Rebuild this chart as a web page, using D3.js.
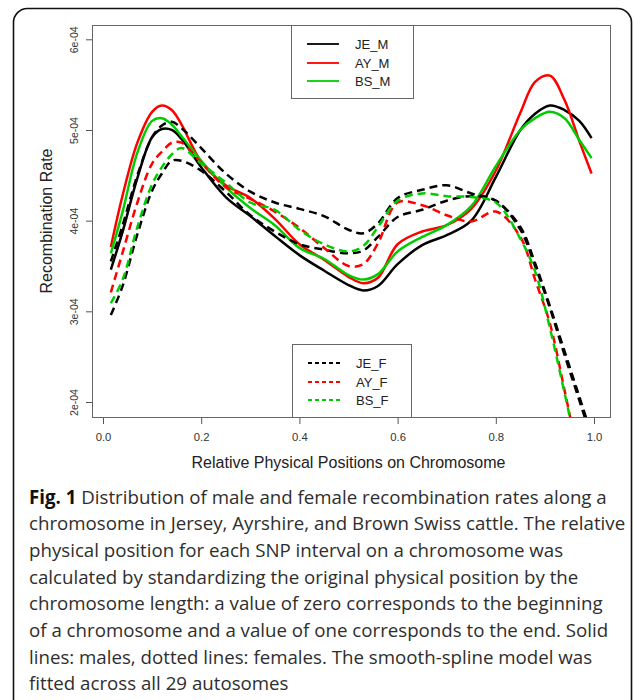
<!DOCTYPE html>
<html>
<head>
<meta charset="utf-8">
<script src="https://cdn.jsdelivr.net/npm/d3@7"></script>
<style>
    body { margin: 0; background: #fff; }
    svg { display: block; }
</style>
</head>
<body>
<svg id="chart" width="634" height="700"></svg>
<script>
// Relative physical positions (shared x grid for all curves)
var positions = [0.016, 0.04, 0.07, 0.1, 0.12, 0.14, 0.16, 0.2, 0.25, 0.3, 0.35, 0.4, 0.45, 0.5,
    0.53, 0.56, 0.6, 0.65, 0.7, 0.75, 0.8, 0.85, 0.88, 0.91, 0.94, 0.97, 0.995];

// Recombination rates, in units of 1e-04
var jeM = [3.46, 3.88, 4.47, 4.92, 5.01, 5.00, 4.90, 4.59, 4.26, 4.05, 3.83, 3.62, 3.45, 3.29,
    3.23, 3.28, 3.52, 3.73, 3.84, 4.00, 4.48, 5.00, 5.18, 5.27, 5.22, 5.10, 4.91];
var ayM = [3.71, 4.28, 4.86, 5.20, 5.27, 5.22, 5.06, 4.65, 4.39, 4.25, 4.02, 3.74, 3.57, 3.38,
    3.31, 3.37, 3.74, 3.88, 3.95, 4.13, 4.55, 5.19, 5.53, 5.60, 5.33, 4.88, 4.52];
var bsM = [3.64, 4.10, 4.75, 5.10, 5.13, 5.06, 4.93, 4.66, 4.37, 4.14, 3.95, 3.70, 3.58, 3.40,
    3.35, 3.41, 3.66, 3.82, 3.95, 4.16, 4.60, 5.00, 5.13, 5.20, 5.13, 4.89, 4.69];
var jeF = [2.96, 3.28, 3.85, 4.33, 4.52, 4.66, 4.66, 4.55, 4.32, 4.06, 3.88, 3.74, 3.68, 3.64,
    3.67, 3.82, 4.04, 4.12, 4.22, 4.27, 4.22, 3.90, 3.50, 3.04, 2.52, 2.02, 1.60];
var jeF2 = [3.55, 3.95, 4.50, 4.92, 5.05, 5.09, 5.02, 4.80, 4.52, 4.32, 4.20, 4.13, 4.05, 3.90,
    3.86, 3.97, 4.25, 4.34, 4.39, 4.30, 4.22, 3.93, 3.53, 3.06, 2.56, 2.06, 1.64];
var ayF = [3.21, 3.65, 4.20, 4.63, 4.76, 4.86, 4.86, 4.64, 4.37, 4.24, 4.10, 3.92, 3.70, 3.50,
    3.52, 3.75, 4.20, 4.17, 4.06, 3.99, 4.10, 3.82, 3.35, 2.87, 2.13, 1.35, 0.70];
var bsF = [3.09, 3.35, 3.93, 4.40, 4.59, 4.73, 4.80, 4.63, 4.42, 4.20, 4.12, 3.90, 3.74, 3.66,
    3.72, 3.93, 4.22, 4.30, 4.27, 4.26, 4.20, 3.80, 3.44, 2.82, 2.10, 1.35, 0.70];

// Axis ticks
var xTicks = [0, 0.2, 0.4, 0.6, 0.8, 1.0];
var yTicks = [2, 3, 4, 5, 6];
var yTickLabels = ["2e-04", "3e-04", "4e-04", "5e-04", "6e-04"];

// Legends
var maleLegend = ["JE_M", "AY_M", "BS_M"];
var femaleLegend = ["JE_F", "AY_F", "BS_F"];

var captionLines = [
    "Distribution of male and female recombination rates along a",
    "chromosome in Jersey, Ayrshire, and Brown Swiss cattle. The relative",
    "physical position for each SNP interval on a chromosome was",
    "calculated by standardizing the original physical position by the",
    "chromosome length: a value of zero corresponds to the beginning",
    "of a chromosome and a value of one corresponds to the end. Solid",
    "lines: males, dotted lines: females. The smooth-spline model was",
    "fitted across all 29 autosomes"
];

var BLACK = '#000', RED = '#ff0000', GREEN = '#00cd00';

var series = [
    {values: jeM, color: BLACK, dashed: false},
    {values: ayM, color: RED, dashed: false},
    {values: bsM, color: GREEN, dashed: false},
    {values: jeF2, color: BLACK, dashed: true},
    {values: jeF, color: BLACK, dashed: true},
    {values: ayF, color: RED, dashed: true},
    {values: bsF, color: GREEN, dashed: true}
];

var svg = d3.select('#chart');

// outer figure frame
svg.append('rect')
    .attr('x', 13.5).attr('y', 8.5)
    .attr('width', 618).attr('height', 730)
    .attr('rx', 14)
    .style('fill', 'none')
    .style('stroke', '#111')
    .style('stroke-width', 1.6);

// plot region
var box = {left: 92, top: 25, right: 610, bottom: 417};

var x = d3.scaleLinear().domain([0, 1]).range([103, 594]);
var y = d3.scaleLinear().domain([2, 6]).range([402, 39.3]);

svg.append('clipPath').attr('id', 'plot-clip')
    .append('rect')
    .attr('x', box.left).attr('y', box.top)
    .attr('width', box.right - box.left).attr('height', box.bottom - box.top);

var line = d3.line()
    .x(function (d, i) { return x(positions[i]); })
    .y(function (d) { return y(d); })
    .curve(d3.curveCatmullRom.alpha(0.5));

svg.append('g')
    .attr('clip-path', 'url(#plot-clip)')
    .selectAll('path')
    .data(series)
    .enter().append('path')
    .attr('d', function (d) { return line(d.values); })
    .style('fill', 'none')
    .style('stroke', function (d) { return d.color; })
    .style('stroke-width', 2.5)
    .style('stroke-dasharray', function (d) { return d.dashed ? '8,5' : null; });

// axes
var xAxis = d3.axisBottom(x)
    .tickValues(xTicks)
    .tickFormat(d3.format('.1f'))
    .tickSize(7)
    .tickPadding(9);

var gx = svg.append('g')
    .attr('transform', 'translate(0,' + box.bottom + ')')
    .call(xAxis);
gx.select('.domain').remove();
gx.selectAll('line').style('stroke', '#555');
gx.selectAll('text')
    .style('font-family', '"Liberation Sans", Arial, sans-serif')
    .style('font-size', '11.3px')
    .style('fill', '#333');

var yAxis = d3.axisLeft(y)
    .tickValues(yTicks)
    .tickFormat(function (d, i) { return yTickLabels[i]; })
    .tickSize(6);

var gy = svg.append('g')
    .attr('transform', 'translate(' + box.left + ',0)')
    .call(yAxis);
gy.select('.domain').remove();
gy.selectAll('line').style('stroke', '#555');
gy.selectAll('text')
    .attr('x', null)
    .attr('dy', null)
    .attr('text-anchor', 'middle')
    .attr('transform', 'translate(-14,0) rotate(-90)')
    .style('font-family', '"Liberation Sans", Arial, sans-serif')
    .style('font-size', '10.5px')
    .style('fill', '#333');

// plot box
svg.append('rect')
    .attr('x', box.left + 0.5).attr('y', box.top + 0.5)
    .attr('width', box.right - box.left).attr('height', box.bottom - box.top)
    .style('fill', 'none')
    .style('stroke', '#666')
    .style('stroke-width', 1);

// axis titles
svg.append('text')
    .attr('x', (x(0) + x(1)) / 2)
    .attr('y', 468)
    .attr('text-anchor', 'middle')
    .style('font-family', '"Liberation Sans", Arial, sans-serif')
    .style('font-size', '16px')
    .style('fill', '#222')
    .text('Relative Physical Positions on Chromosome');

svg.append('text')
    .attr('transform', 'translate(52,' + ((box.top + box.bottom) / 2) + ') rotate(-90)')
    .attr('text-anchor', 'middle')
    .style('font-family', '"Liberation Sans", Arial, sans-serif')
    .style('font-size', '16px')
    .style('fill', '#222')
    .text('Recombination Rate');

// legends
var legendColors = [BLACK, RED, GREEN];

function drawLegend(bx, by, bw, bh, labels, dashed) {
    var g = svg.append('g');
    g.append('rect')
        .attr('x', bx + 0.5).attr('y', by + 0.5)
        .attr('width', bw).attr('height', bh)
        .style('fill', '#fff')
        .style('stroke', '#666');
    labels.forEach(function (lab, i) {
        var ry = Math.round(by + 19 + i * 18.5);
        g.append('line')
            .attr('x1', bx + 16).attr('x2', bx + 48)
            .attr('y1', ry).attr('y2', ry)
            .attr('stroke', legendColors[i])
            .attr('stroke-width', 1.8)
            .attr('stroke-dasharray', dashed ? '4,3' : null);
        g.append('text')
            .attr('x', bx + 64).attr('y', ry + 5)
            .style('font-family', '"Liberation Sans", Arial, sans-serif')
            .style('font-size', '13px')
            .style('fill', '#222')
            .text(lab);
    });
}
drawLegend(291, box.top, 122, 73, maleLegend, false);
drawLegend(292, 344, 119, 73, femaleLegend, true);

// caption
var cap = svg.append('g')
    .style('font-family', '"Open Sans", "Noto Sans", sans-serif')
    .style('fill', '#2e2e2e');

var capSize = 18;
var texts = captionLines.map(function (t, i) {
    var el = cap.append('text')
        .attr('x', 29)
        .attr('y', 503.5 + i * 26.7)
        .style('font-size', capSize + 'px');
    if (i === 0) {
        el.append('tspan').style('font-weight', 'bold').style('fill', '#111').text('Fig. 1');
        el.append('tspan').text(' ' + t);
    } else {
        el.text(t);
    }
    return el;
});
// fit first caption line to the width it has in the figure
var w0 = texts[0].node().getComputedTextLength();
var fitted = capSize * 578 / w0;
texts.forEach(function (el) { el.style('font-size', fitted + 'px'); });
</script>
</body>
</html>
